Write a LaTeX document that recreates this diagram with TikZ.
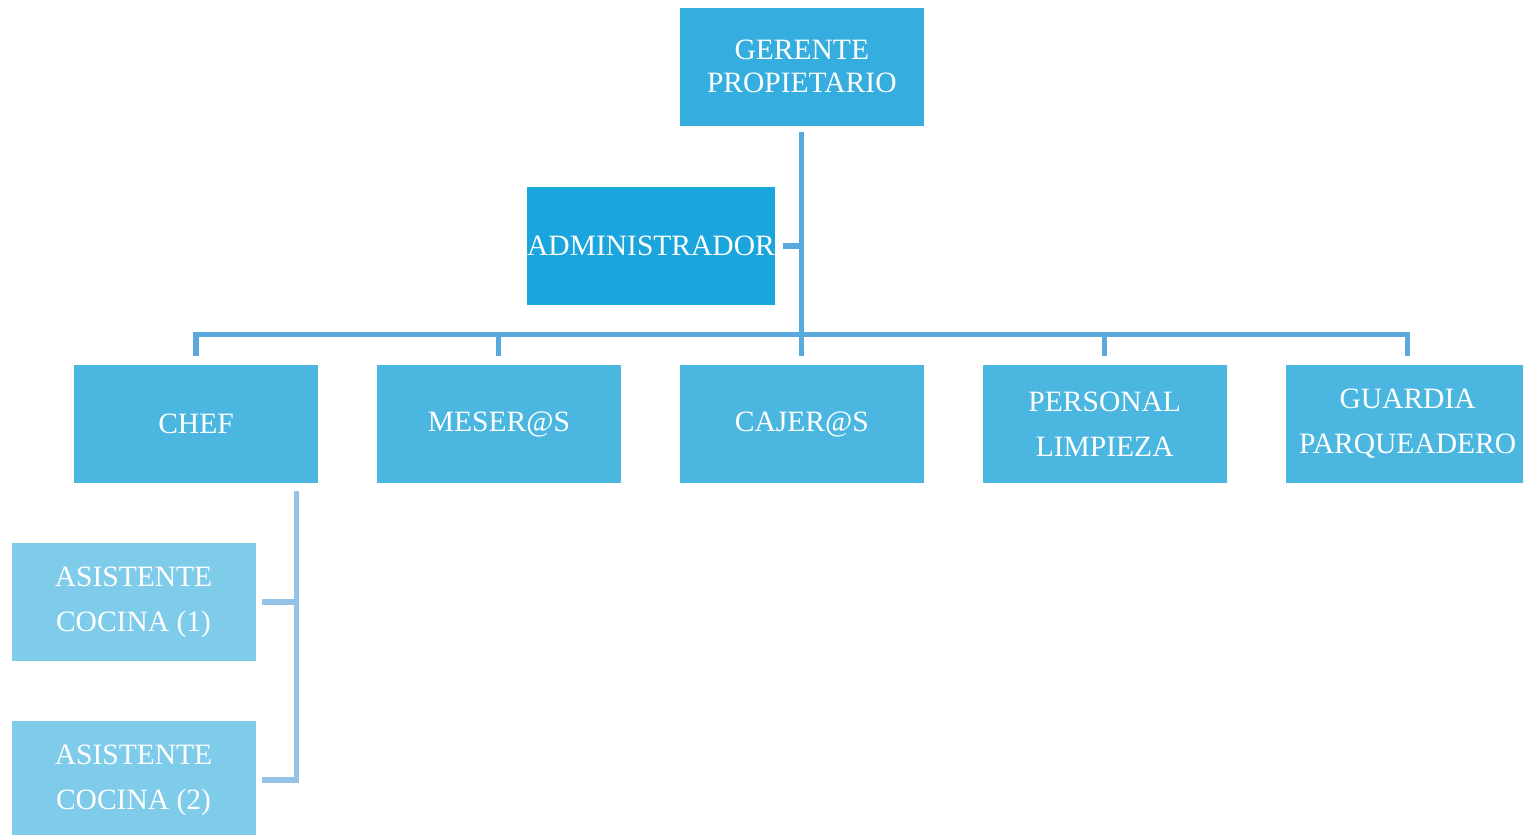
\documentclass[tikz,border=0pt]{standalone}
\usepackage{fontspec}
\setmainfont{Liberation Serif}
\usepackage{xcolor}
\usetikzlibrary{positioning}
\definecolor{topblue}{HTML}{35AEDF}
\definecolor{admblue}{HTML}{1AA6DC}
\definecolor{lvlblue}{HTML}{4BB7E1}
\definecolor{subblue}{HTML}{7ECCEA}
\definecolor{linkblue}{HTML}{5AA9DD}
\definecolor{sublinkblue}{HTML}{94C3E7}

\begin{document}
\begin{tikzpicture}[
  node distance=0.575cm and 0.575cm,
  post/.style={align=center, text=white, inner sep=0pt, minimum width=2.44cm,
    minimum height=1.18cm, font=\fontsize{8.4}{12.8}\selectfont},
  top/.style={post, fill=topblue, font=\fontsize{8.4}{9.4}\selectfont},
  adm/.style={post, fill=admblue},
  staff/.style={post, fill=lvlblue},
  helper/.style={post, fill=subblue},
  link/.style={draw=linkblue, line width=1.45pt},
  sublink/.style={draw=sublinkblue, line width=1.45pt}
]
\useasboundingbox (0,0) rectangle (15.23,-8.35);
\clip (0,0) rectangle (15.23,-8.35);

\node[staff] (chef) at (1.96,-4.24) {CHEF};
\node[staff, right=of chef] (meseros) {MESER@S};
\node[staff, right=of meseros] (cajeros) {CAJER@S};
\node[staff, right=of cajeros] (limpieza) {PERSONAL\\LIMPIEZA};
\node[staff, right=of limpieza] (guardia) {GUARDIA\\PARQUEADERO};
\node[top, above=2.38cm of cajeros] (gerente) {GERENTE\\PROPIETARIO};
\node[adm] (admin) at (6.51,-2.46) {ADMINISTRADOR};
\node[helper] (asist1) at (1.335,-6.02) {ASISTENTE\\COCINA (1)};
\node[helper] (asist2) at (1.335,-7.80) {ASISTENTE\\COCINA (2)};

% main line
\coordinate (bar) at ([yshift=3mm]cajeros.north);
\draw[link] ([yshift=-0.6mm]gerente.south) -- ([yshift=0.8mm]cajeros.north);
\draw[link] ([xshift=0.7mm]admin.east) -- (admin.east -| gerente.south);
\draw[link] ([yshift=0.8mm]chef.north) |- (bar) -| ([yshift=0.8mm]guardia.north);
\foreach \n in {meseros,limpieza}
  \draw[link] ([yshift=0.8mm]\n.north) -- (\n.north |- bar);

% kitchen
\coordinate (kitchen) at ([xshift=-2.2mm,yshift=-0.7mm]chef.south east);
\draw[sublink] (kitchen) |- ([xshift=0.6mm]asist2.east);
\draw[sublink] ([xshift=0.6mm]asist1.east) -- (asist1.east -| kitchen);
\end{tikzpicture}
\end{document}
